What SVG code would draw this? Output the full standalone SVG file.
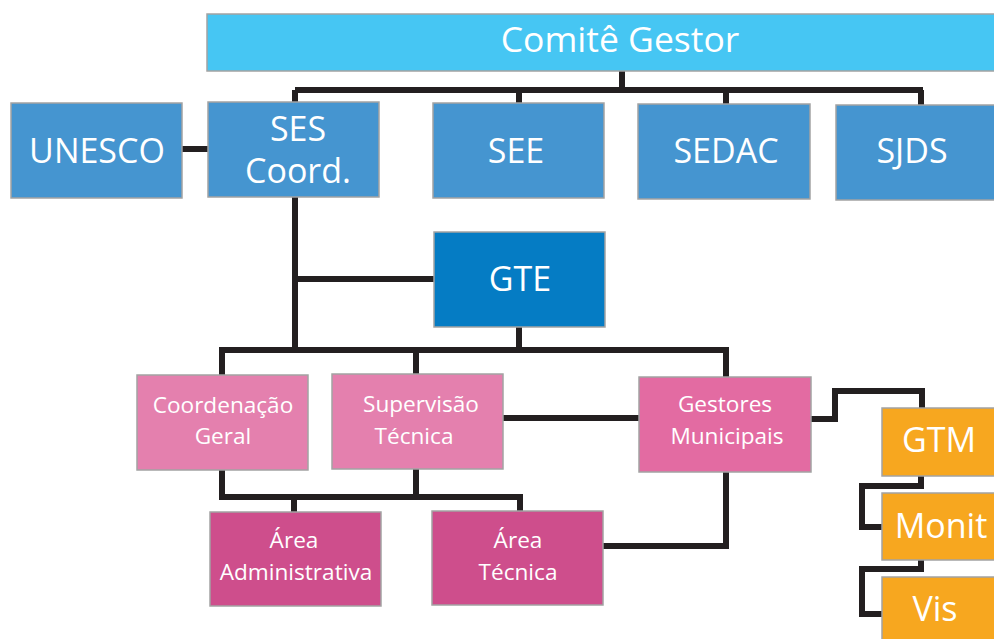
<svg xmlns="http://www.w3.org/2000/svg" width="994" height="639" viewBox="0 0 994 639">
<style>
.b{stroke:#A3A3A3;stroke-width:1.5}
.t{font-family:"Open Sans","Noto Sans","Liberation Sans",sans-serif;fill:#fff;text-anchor:middle}
.L{font-size:34px}
.S{font-size:22.6px}
.c{fill:none;stroke:#231F20;stroke-width:6;stroke-linejoin:miter;stroke-linecap:butt}
</style>
<rect width="994" height="639" fill="#fff"/>
<g id="connectors">
<path class="c" d="M622 71V90M295 90H923M295 90V102M519 90V103M726 90V104M921 90V105"/>
<path class="c" d="M182 149H208"/>
<path class="c" d="M295 197V350M295 279H434"/>
<path class="c" d="M519 327V350M219 350H729M222 350V375M416 350V374M726 350V377"/>
<path class="c" d="M503 418H639"/>
<path class="c" d="M811 419H835V391H922V408"/>
<path class="c" d="M921 476V486H862V527H882"/>
<path class="c" d="M921 560V569H862V614H882"/>
<path class="c" d="M222 470V497H520V511M416 469V497M294 497V512"/>
<path class="c" d="M603 546H726V472"/>
</g>
<g id="comite"><rect class="b" x="207" y="14" width="800" height="57" fill="#46C6F3"/><text class="t" x="620" y="52" font-size="35.5">Comitê Gestor</text></g>
<g id="unesco"><rect class="b" x="11" y="103" width="171" height="95" fill="#4595D0"/><text class="t L" x="97" y="163">UNESCO</text></g>
<g id="ses"><rect class="b" x="208" y="102" width="171" height="95" fill="#4595D0"/><text class="t L" x="298" y="141">SES</text><text class="t L" x="298" y="183">Coord.</text></g>
<g id="see"><rect class="b" x="433" y="103" width="171" height="95" fill="#4595D0"/><text class="t L" x="516" y="163">SEE</text></g>
<g id="sedac"><rect class="b" x="638" y="104" width="172" height="95" fill="#4595D0"/><text class="t L" x="726" y="163">SEDAC</text></g>
<g id="sjds"><rect class="b" x="836" y="105" width="172" height="95" fill="#4595D0"/><text class="t L" x="912" y="163">SJDS</text></g>
<g id="gte"><rect class="b" x="434" y="232" width="171" height="95" fill="#057CC4"/><text class="t L" x="520" y="291">GTE</text></g>
<g id="coord"><rect class="b" x="137" y="375" width="171" height="95" fill="#E480AE"/><text class="t S" x="223" y="413">Coordenação</text><text class="t S" x="223" y="444">Geral</text></g>
<g id="superv"><rect class="b" x="332" y="374" width="171" height="95" fill="#E480AE"/><text class="t S" x="421" y="412">Supervisão</text><text class="t S" x="414" y="444">Técnica</text></g>
<g id="gestores"><rect class="b" x="639" y="377" width="172" height="95" fill="#E36BA2"/><text class="t S" x="725" y="412">Gestores</text><text class="t S" x="727" y="444">Municipais</text></g>
<g id="areaadm"><rect class="b" x="210" y="512" width="171" height="94" fill="#CE4E8C"/><text class="t S" x="294" y="548">Área</text><text class="t S" x="296" y="580">Administrativa</text></g>
<g id="areatec"><rect class="b" x="432" y="511" width="171" height="94" fill="#CE4E8C"/><text class="t S" x="518" y="548">Área</text><text class="t S" x="518" y="580">Técnica</text></g>
<g id="gtm"><rect class="b" x="882" y="408" width="130" height="68" fill="#F7A71F"/><text class="t L" x="939" y="452">GTM</text></g>
<g id="monit"><rect class="b" x="882" y="493" width="130" height="67" fill="#F7A71F"/><text class="t L" x="941" y="538">Monit</text></g>
<g id="vis"><rect class="b" x="882" y="577" width="130" height="80" fill="#F7A71F"/><text class="t L" x="935" y="621">Vis</text></g>
</svg>
